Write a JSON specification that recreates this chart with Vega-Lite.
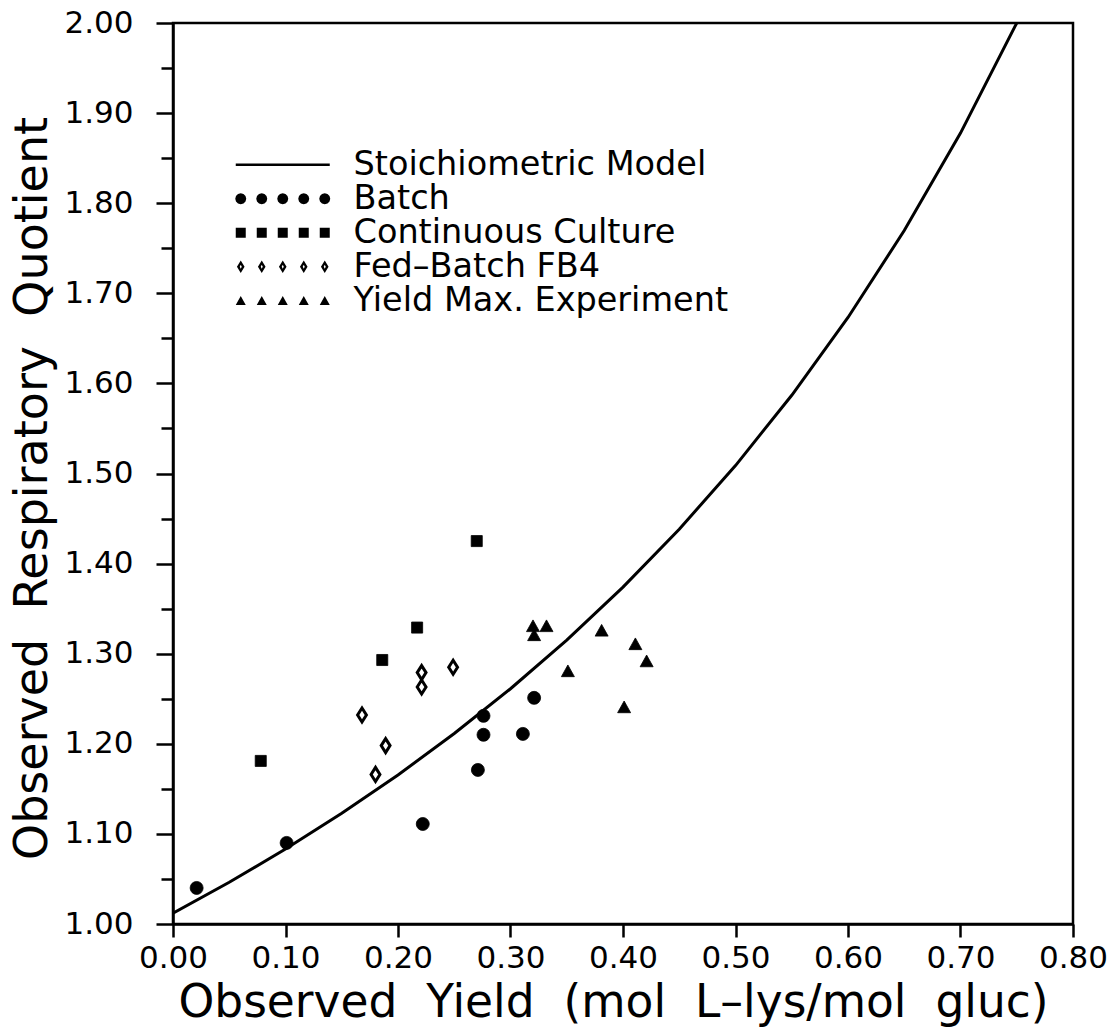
{
  "$schema": "https://vega.github.io/schema/vega-lite/v6.json",
  "width": 900,
  "height": 901,
  "autosize": {"type": "none"},
  "padding": {"left": 173, "top": 23, "right": 40, "bottom": 104},
  "background": "white",
  "config": {
    "view": {"stroke": "black", "strokeWidth": 2.5},
    "font": "DejaVu Sans",
    "axis": {
      "domainColor": "black", "domainWidth": 2.5,
      "tickColor": "black", "tickWidth": 2.5,
      "labelColor": "black", "titleColor": "black",
      "grid": false,
      "labelFont": "DejaVu Sans", "titleFont": "DejaVu Sans",
      "titleFontWeight": "normal", "labelFontWeight": "normal"
    }
  },
  "datasets": {
    "curve": [
      {"yield": 0.00, "rq": 1.0119},
      {"yield": 0.05, "rq": 1.0463},
      {"yield": 0.10, "rq": 1.0832},
      {"yield": 0.15, "rq": 1.1228},
      {"yield": 0.20, "rq": 1.1654},
      {"yield": 0.25, "rq": 1.2114},
      {"yield": 0.30, "rq": 1.2611},
      {"yield": 0.35, "rq": 1.3151},
      {"yield": 0.40, "rq": 1.3739},
      {"yield": 0.45, "rq": 1.4382},
      {"yield": 0.50, "rq": 1.5088},
      {"yield": 0.55, "rq": 1.5868},
      {"yield": 0.60, "rq": 1.6732},
      {"yield": 0.65, "rq": 1.7696},
      {"yield": 0.70, "rq": 1.8778},
      {"yield": 0.75, "rq": 2.0000}
    ],
    "points": [
      {"series": "Batch", "yield": 0.021, "rq": 1.040},
      {"series": "Batch", "yield": 0.101, "rq": 1.090},
      {"series": "Batch", "yield": 0.222, "rq": 1.111},
      {"series": "Batch", "yield": 0.271, "rq": 1.171},
      {"series": "Batch", "yield": 0.276, "rq": 1.210},
      {"series": "Batch", "yield": 0.276, "rq": 1.231},
      {"series": "Batch", "yield": 0.311, "rq": 1.211},
      {"series": "Batch", "yield": 0.321, "rq": 1.251},
      {"series": "Continuous Culture", "yield": 0.078, "rq": 1.181},
      {"series": "Continuous Culture", "yield": 0.186, "rq": 1.293},
      {"series": "Continuous Culture", "yield": 0.217, "rq": 1.329},
      {"series": "Continuous Culture", "yield": 0.270, "rq": 1.425},
      {"series": "Fed\u2013Batch FB4", "yield": 0.168, "rq": 1.232},
      {"series": "Fed\u2013Batch FB4", "yield": 0.189, "rq": 1.198},
      {"series": "Fed\u2013Batch FB4", "yield": 0.180, "rq": 1.166},
      {"series": "Fed\u2013Batch FB4", "yield": 0.221, "rq": 1.279},
      {"series": "Fed\u2013Batch FB4", "yield": 0.221, "rq": 1.263},
      {"series": "Fed\u2013Batch FB4", "yield": 0.249, "rq": 1.285},
      {"series": "Yield Max. Experiment", "yield": 0.320, "rq": 1.331},
      {"series": "Yield Max. Experiment", "yield": 0.332, "rq": 1.331},
      {"series": "Yield Max. Experiment", "yield": 0.321, "rq": 1.321},
      {"series": "Yield Max. Experiment", "yield": 0.381, "rq": 1.326},
      {"series": "Yield Max. Experiment", "yield": 0.411, "rq": 1.311},
      {"series": "Yield Max. Experiment", "yield": 0.421, "rq": 1.292},
      {"series": "Yield Max. Experiment", "yield": 0.351, "rq": 1.281},
      {"series": "Yield Max. Experiment", "yield": 0.401, "rq": 1.241}
    ]
  },
  "encoding": {
    "x": {
      "field": "yield", "type": "quantitative",
      "scale": {"domain": [0, 0.8], "nice": false, "zero": false},
      "axis": {
        "values": [0, 0.1, 0.2, 0.3, 0.4, 0.5, 0.6, 0.7, 0.8],
        "format": ".2f",
        "tickSize": 13,
        "labelFontSize": 31,
        "labelPadding": 6,
        "labelFlush": false,
        "labelOverlap": false,
        "title": "Observed\u00a0 Yield\u00a0 (mol\u00a0 L\u2013lys/mol\u00a0 gluc)",
        "titleFontSize": 45.5,
        "titleX": 440,
        "titleY": 92,
        "titleBaseline": "alphabetic"
      }
    },
    "y": {
      "field": "rq", "type": "quantitative",
      "scale": {"domain": [1, 2], "nice": false, "zero": false},
      "axis": {
        "values": [1, 1.05, 1.1, 1.15, 1.2, 1.25, 1.3, 1.35, 1.4, 1.45, 1.5, 1.55, 1.6, 1.65, 1.7, 1.75, 1.8, 1.85, 1.9, 1.95, 2],
        "labelExpr": "round(datum.value*20) % 2 == 0 ? format(datum.value, '.2f') : ''",
        "tickSize": {"condition": {"test": "round(datum.value*20) % 2 == 0", "value": 17}, "value": 12},
        "labelFontSize": 31,
        "labelPadding": 23,
        "labelFlush": false,
        "labelOverlap": false,
        "title": "Observed\u00a0 Respiratory\u00a0 Quotient",
        "titleFontSize": 46,
        "titleX": -127,
        "titleY": 465,
        "titleBaseline": "alphabetic",
        "titleAngle": -90
      }
    }
  },
  "resolve": {"scale": {"shape": "independent"}},
  "layer": [
    {
      "data": {"name": "curve"},
      "mark": {"type": "line", "color": "black", "strokeWidth": 3, "clip": true},
      "encoding": {}
    },
    {
      "data": {"name": "points"},
      "mark": {"type": "point", "filled": true, "stroke": "black", "size": 169, "opacity": 1},
      "encoding": {
        "fill": {"condition": {"test": "datum.series === 'Fed\u2013Batch FB4'", "value": "white"}, "value": "black"},
        "strokeWidth": {"condition": {"test": "datum.series === 'Fed\u2013Batch FB4'", "value": 3}, "value": 0.8},
        "shape": {
          "field": "series", "type": "nominal",
          "scale": {
            "domain": ["Stoichiometric Model", "Batch", "Continuous Culture", "Fed\u2013Batch FB4", "Yield Max. Experiment"],
            "range": ["circle", "circle", "M-0.85,-0.85H0.85V0.85H-0.85Z", "M0,-1.08L0.68,0L0,1.08L-0.68,0Z", "M0,-0.9L1,0.9L-1,0.9Z"]
          },
          "legend": null
        }
      }
    },
    {
      "data": {"name": "points"},
      "transform": [{"filter": "false"}],
      "mark": {"type": "point", "filled": true, "color": "black", "size": 400},
      "encoding": {
        "shape": {
          "field": "series", "type": "nominal",
          "scale": {
            "domain": ["Stoichiometric Model", "Batch", "Continuous Culture", "Fed\u2013Batch FB4", "Yield Max. Experiment"],
            "range": [
              "M-1,-0.12L8.4,-0.12L8.4,0.12L-1,0.12Z",
              "M0.05,0L-0.024,0.275L-0.225,0.476L-0.5,0.55L-0.775,0.476L-0.976,0.275L-1.05,0L-0.976,-0.275L-0.775,-0.476L-0.5,-0.55L-0.225,-0.476L-0.024,-0.275ZM2.15,0L2.076,0.275L1.875,0.476L1.6,0.55L1.325,0.476L1.124,0.275L1.05,0L1.124,-0.275L1.325,-0.476L1.6,-0.55L1.875,-0.476L2.076,-0.275ZM4.25,0L4.176,0.275L3.975,0.476L3.7,0.55L3.425,0.476L3.224,0.275L3.15,0L3.224,-0.275L3.425,-0.476L3.7,-0.55L3.975,-0.476L4.176,-0.275ZM6.35,0L6.276,0.275L6.075,0.476L5.8,0.55L5.525,0.476L5.324,0.275L5.25,0L5.324,-0.275L5.525,-0.476L5.8,-0.55L6.075,-0.476L6.276,-0.275ZM8.45,0L8.376,0.275L8.175,0.476L7.9,0.55L7.625,0.476L7.424,0.275L7.35,0L7.424,-0.275L7.625,-0.476L7.9,-0.55L8.175,-0.476L8.376,-0.275Z",
              "M-1,-0.5L0,-0.5L0,0.5L-1,0.5ZM1.1,-0.5L2.1,-0.5L2.1,0.5L1.1,0.5ZM3.2,-0.5L4.2,-0.5L4.2,0.5L3.2,0.5ZM5.3,-0.5L6.3,-0.5L6.3,0.5L5.3,0.5ZM7.4,-0.5L8.4,-0.5L8.4,0.5L7.4,0.5Z",
              "M-0.5,-0.62L-0.12,0L-0.5,0.62L-0.88,0ZM-0.5,-0.2L-0.6,0L-0.5,0.2L-0.4,0ZM1.6,-0.62L1.98,0L1.6,0.62L1.22,0ZM1.6,-0.2L1.5,0L1.6,0.2L1.7,0ZM3.7,-0.62L4.08,0L3.7,0.62L3.32,0ZM3.7,-0.2L3.6,0L3.7,0.2L3.8,0ZM5.8,-0.62L6.18,0L5.8,0.62L5.42,0ZM5.8,-0.2L5.7,0L5.8,0.2L5.9,0ZM7.9,-0.62L8.28,0L7.9,0.62L7.52,0ZM7.9,-0.2L7.8,0L7.9,0.2L8,0Z",
              "M-0.5,-0.48L0,0.42L-1,0.42ZM1.6,-0.48L2.1,0.42L1.1,0.42ZM3.7,-0.48L4.2,0.42L3.2,0.42ZM5.8,-0.48L6.3,0.42L5.3,0.42ZM7.9,-0.48L8.4,0.42L7.4,0.42Z"
            ]
          },
          "legend": {
            "orient": "none",
            "legendX": 56,
            "legendY": 125,
            "title": null,
            "padding": 0,
            "offset": 0,
            "labelFont": "DejaVu Sans",
            "labelFontSize": 33.5,
            "labelColor": "black",
            "labelLimit": 1000,
            "symbolSize": 400,
            "symbolOffset": 0,
            "symbolOpacity": 1,
            "symbolFillColor": "black",
            "symbolStrokeColor": "transparent",
            "symbolStrokeWidth": 0,
            "labelOffset": 91,
            "rowPadding": -5.5
          }
        }
      }
    }
  ]
}
